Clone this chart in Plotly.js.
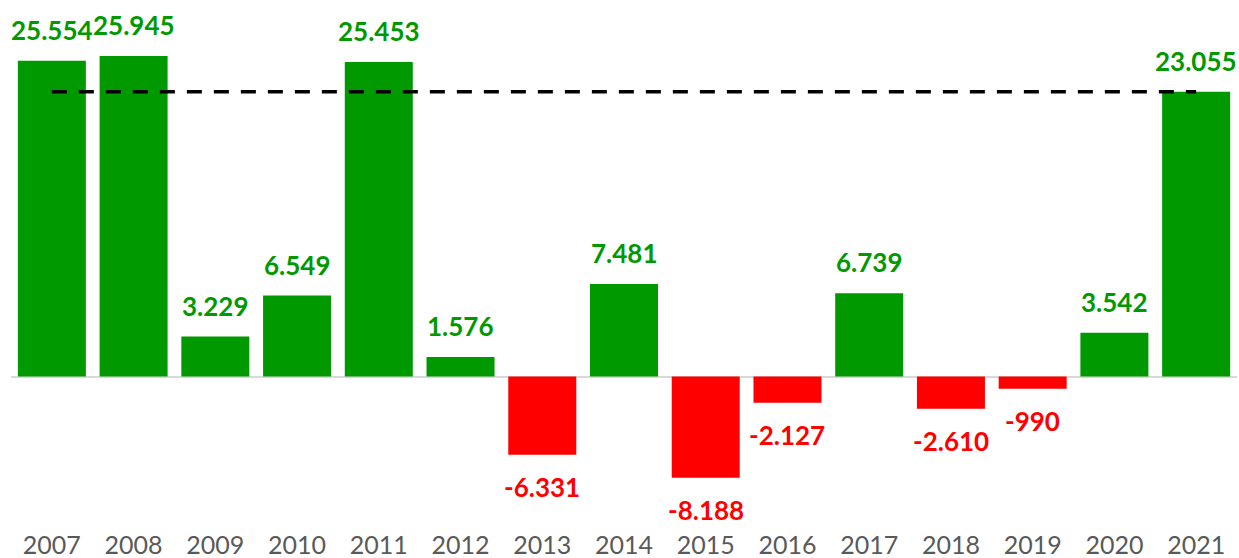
<!DOCTYPE html>
<html>
<head>
<meta charset="utf-8">
<script src="https://cdn.plot.ly/plotly-3.0.1.min.js"></script>
<style>
  html, body { margin: 0; padding: 0; background: #ffffff; }
  #chart { width: 1239px; height: 558px; }
</style>
</head>
<body>
<div id="chart"></div>
<script>
const years = ["2007","2008","2009","2010","2011","2012","2013","2014","2015","2016","2017","2018","2019","2020","2021"];
const values = [25554, 25945, 3229, 6549, 25453, 1576, -6331, 7481, -8188, -2127, 6739, -2610, -990, 3542, 23055];
const referenceValue = 23055;

const GREEN = '#009900';
const RED = '#ff0000';
const FONT = 'Lato, "Open Sans", sans-serif';

function fmt(v) {
  const s = Math.abs(v).toString().replace(/\B(?=(\d{3})+(?!\d))/g, '.');
  return (v < 0 ? '-' : '') + s;
}

const colors = values.map(v => v >= 0 ? GREEN : RED);

const bars = {
  type: 'bar',
  x: years,
  y: values,
  marker: { color: colors, line: { width: 0 } },
  hoverinfo: 'x+y',
  cliponaxis: false
};

const refLine = {
  type: 'scatter',
  mode: 'lines',
  x: [years[0], years[years.length - 1]],
  y: [referenceValue, referenceValue],
  line: { color: '#000000', width: 3.5, dash: '15px,12px' },
  hoverinfo: 'skip'
};

const annotations = values.map((v, i) => ({
  x: i,
  y: v,
  xref: 'x',
  yref: 'y',
  text: '<b>' + fmt(v) + '</b>',
  showarrow: false,
  yanchor: v >= 0 ? 'bottom' : 'top',
  yshift: v >= 0 ? 13 : -14,
  font: { family: FONT, size: 26, color: v >= 0 ? GREEN : RED }
}));

const layout = {
  width: 1239,
  height: 558,
  margin: { l: 11, r: 2, t: 10, b: 38 },
  paper_bgcolor: '#ffffff',
  plot_bgcolor: '#ffffff',
  showlegend: false,
  bargap: 0.168,
  font: { family: FONT },
  xaxis: {
    type: 'category',
    range: [-0.5, years.length - 0.5],
    showgrid: false,
    showline: false,
    zeroline: false,
    ticks: '',
    ticklabelstandoff: 8,
    tickfont: { family: FONT, size: 25, color: '#595959' },
    fixedrange: true
  },
  yaxis: {
    range: [-11615, 29664],
    showgrid: false,
    showticklabels: false,
    ticks: '',
    zeroline: true,
    zerolinecolor: '#d9d9d9',
    zerolinewidth: 2,
    fixedrange: true
  },
  annotations: annotations
};

Plotly.newPlot('chart', [bars, refLine], layout, { displayModeBar: false, staticPlot: true });
</script>
</body>
</html>
